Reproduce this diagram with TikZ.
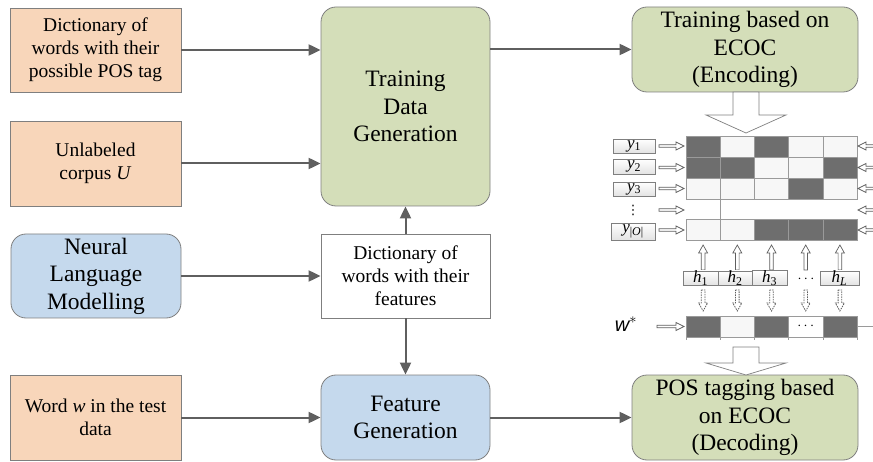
\documentclass[tikz,border=0pt]{standalone}
\usepackage{fontspec}
\setmainfont{Liberation Serif}
\newfontfamily\arialf{Liberation Sans}
\newfontfamily\djv{DejaVu Sans}
\usetikzlibrary{arrows.meta,calc}
\definecolor{peach}{HTML}{F8D6BA}
\definecolor{greenbox}{HTML}{D4DEB9}
\definecolor{bluebox}{HTML}{C5D9ED}
\definecolor{bordergray}{HTML}{7F7F7F}
\definecolor{arrowgray}{HTML}{5F5F5F}
\definecolor{cellD}{HTML}{6E6E6E}
\definecolor{cellW}{HTML}{F7F7F7}
\definecolor{cellB}{HTML}{9A9A9A}
\newcommand{\hArrV}[7]{% x, ytail, ybase, ytip, shafthalf, headhalf, style
  \draw[#7] ({#1-#5},#2) -- ({#1+#5},#2) -- ({#1+#5},#3) -- ({#1+#6},#3) -- (#1,#4)
    -- ({#1-#6},#3) -- ({#1-#5},#3) -- cycle;}
\newcommand{\hArrH}[7]{% y, xtail, xbase, xtip, shafthalf, headhalf, style
  \draw[#7] (#2,{#1-#5}) -- (#2,{#1+#5}) -- (#3,{#1+#5}) -- (#3,{#1+#6}) -- (#4,#1)
    -- (#3,{#1-#6}) -- (#3,{#1-#5}) -- cycle;}
\begin{document}
\begin{tikzpicture}[x=1pt,y=-1pt,
  box/.style={draw=bordergray, line width=0.8pt, inner sep=0pt, align=center,
    font=\fontsize{19.5}{23}\selectfont},
  bigbox/.style={box, rounded corners=15pt, font=\fontsize{23.5}{27.5}\selectfont},
  conn/.style={draw=arrowgray, line width=2pt, -{Triangle[length=12pt,width=11pt]}},
  harrow/.style={draw=arrowgray, fill=white, line width=0.7pt},
  hdash/.style={draw=arrowgray, fill=white, line width=0.8pt, dash pattern=on 1.5pt off 1pt},
  labbox/.style={draw=bordergray, line width=0.6pt, top color=white, bottom color=gray!22,
    inner sep=0pt, font=\fontsize{17}{18}\selectfont},
  cellbd/.style={draw=cellB, line width=0.6pt}]
\useasboundingbox (0,0) rectangle (873,462);

% left column
\node[box, fill=peach, minimum width=171pt, minimum height=84pt] (A) at (95.5,50)
  {Dictionary of\\ words with their\\ possible POS tag};
\node[box, fill=peach, minimum width=171pt, minimum height=85pt] (B) at (95.5,163.5)
  {Unlabeled\\ corpus \textit{U}};
\node[bigbox, fill=bluebox, minimum width=170pt, minimum height=84pt] (C) at (96,276)
  {Neural\\ Language\\ Modelling};
\node[box, fill=peach, minimum width=171pt, minimum height=85pt] (D) at (95.5,417.5)
  {Word \textit{w} in the test\\ data};

% middle column
\node[bigbox, fill=greenbox, minimum width=169pt, minimum height=199pt] (TDG) at (405.5,106.5)
  {Training\\ Data\\ Generation};
\node[box, fill=white, minimum width=169pt, minimum height=84pt] (DF) at (405.5,276)
  {Dictionary of\\ words with their\\ features};
\node[bigbox, fill=bluebox, minimum width=169pt, minimum height=85pt] (FG) at (405.5,417.5)
  {Feature\\ Generation};

% right column
\node[bigbox, fill=greenbox, minimum width=226pt, minimum height=85pt] (TE) at (745,49.5)
  {Training based on\\ ECOC\\ (Encoding)};
\node[bigbox, fill=greenbox, minimum width=226pt, minimum height=85pt] (PT) at (745,417.5)
  {POS tagging based\\ on ECOC\\ (Decoding)};

% connectors
\draw[conn] (A.east) -- (A.east -| TDG.west);
\draw[conn] (B.east) -- (B.east -| TDG.west);
\draw[conn] (C.east) -- (DF.west);
\draw[conn] (D.east) -- (FG.west);
\draw[conn] (DF.north) -- (TDG.south);
\draw[conn] (DF.south) -- (FG.north);
\draw[conn] (TE.west -| TDG.east) -- (TE.west);
\draw[conn] (FG.east) -- (PT.west);

% big hollow arrows
\hArrV{746}{92}{115}{133}{13}{40}{harrow, draw=bordergray}
\hArrV{746}{347}{363}{375}{13}{40}{harrow, draw=bordergray}

% code matrix
\foreach \ya in {136,157,178,219}
  \fill[cellW] (686,\ya) rectangle (857,\ya+21);
\foreach \c/\ya in {0/136,2/136,0/157,1/157,4/157,3/178,2/219,3/219,4/219}
  \fill[cellD] ({686+34.2*\c},\ya) rectangle ++(34.2,21);
\foreach \c in {0,...,4}
  \foreach \ya in {136,157,178,219}
    \draw[cellbd] ({686+34.2*\c},\ya) rectangle ++(34.2,21);
\draw[cellbd] (720.2,199) -- (720.2,219);

% row labels
\node[labbox, minimum width=42pt, minimum height=14pt] (y1) at (634,146) {\textit{y}\textsubscript{1}};
\node[labbox, minimum width=42pt, minimum height=15pt] (y2) at (634,166.5) {\textit{y}\textsubscript{2}};
\node[labbox, minimum width=42pt, minimum height=14pt] (y3) at (634,189) {\textit{y}\textsubscript{3}};
\node[inner sep=0pt, font=\djv\fontsize{13}{13}\selectfont] (vd) at (633,210) {⋮};
\node[labbox, minimum width=44pt, minimum height=17pt] (yO) at (633,231.5) {\textit{y}\textsubscript{|\textit{O}|}};

% small hollow arrows into rows
\foreach \yy in {146,167.5,188.5,210,230}{
  \hArrH{\yy}{659}{676}{684}{1.3}{4}{harrow}
  \hArrH{\yy}{876}{866}{858}{1.3}{4}{harrow}
}

% arrows between h boxes, matrix and w* row
\foreach \xx in {703.1,737.3,771.5,805.7,839.9}{
  \hArrV{\xx}{270}{253}{245}{1.8}{4.5}{harrow}
  \hArrV{\xx}{290}{303}{311}{1.8}{4.5}{hdash}
}

% h boxes
\node[labbox, minimum width=35pt, minimum height=14pt] (h1) at (700.5,278) {\textit{h}\textsubscript{1}};
\node[labbox, minimum width=34pt, minimum height=14pt] (h2) at (735,278) {\textit{h}\textsubscript{2}};
\node[labbox, minimum width=35pt, minimum height=14pt] (h3) at (769.5,278) {\textit{h}\textsubscript{3}};
\node[inner sep=0pt, font=\fontsize{15}{17}\selectfont] (hd) at (806,279) {$\cdots$};
\node[labbox, minimum width=39pt, minimum height=14pt] (hL) at (839.5,278) {\textit{h}\textsubscript{\textit{L}}};

% w* row
\fill[cellW] (686,316) rectangle (857,337);
\foreach \c in {0,2,4}
  \fill[cellD] ({686+34.2*\c},316) rectangle ++(34.2,21);
\fill[white] ({686+34.2*3},316) rectangle ++(34.2,21);
\foreach \c in {0,...,4}
  \draw[cellbd] ({686+34.2*\c},316) rectangle ++(34.2,21);
\foreach \c in {0,...,5}
  \draw[cellbd] ({686+34.2*\c},337) -- ++(0,3);
\node[inner sep=0pt, font=\fontsize{14}{16}\selectfont] (wd) at (805.7,326) {$\cdots$};
\draw[cellbd] (857,326.5) -- (873,326.5);
\node[font=\arialf\itshape\fontsize{20}{22}\selectfont] (ws) at (626,324) {w$^{*}$};
\hArrH{326.5}{657}{676}{684}{1.3}{4}{harrow}
\end{tikzpicture}
\end{document}
